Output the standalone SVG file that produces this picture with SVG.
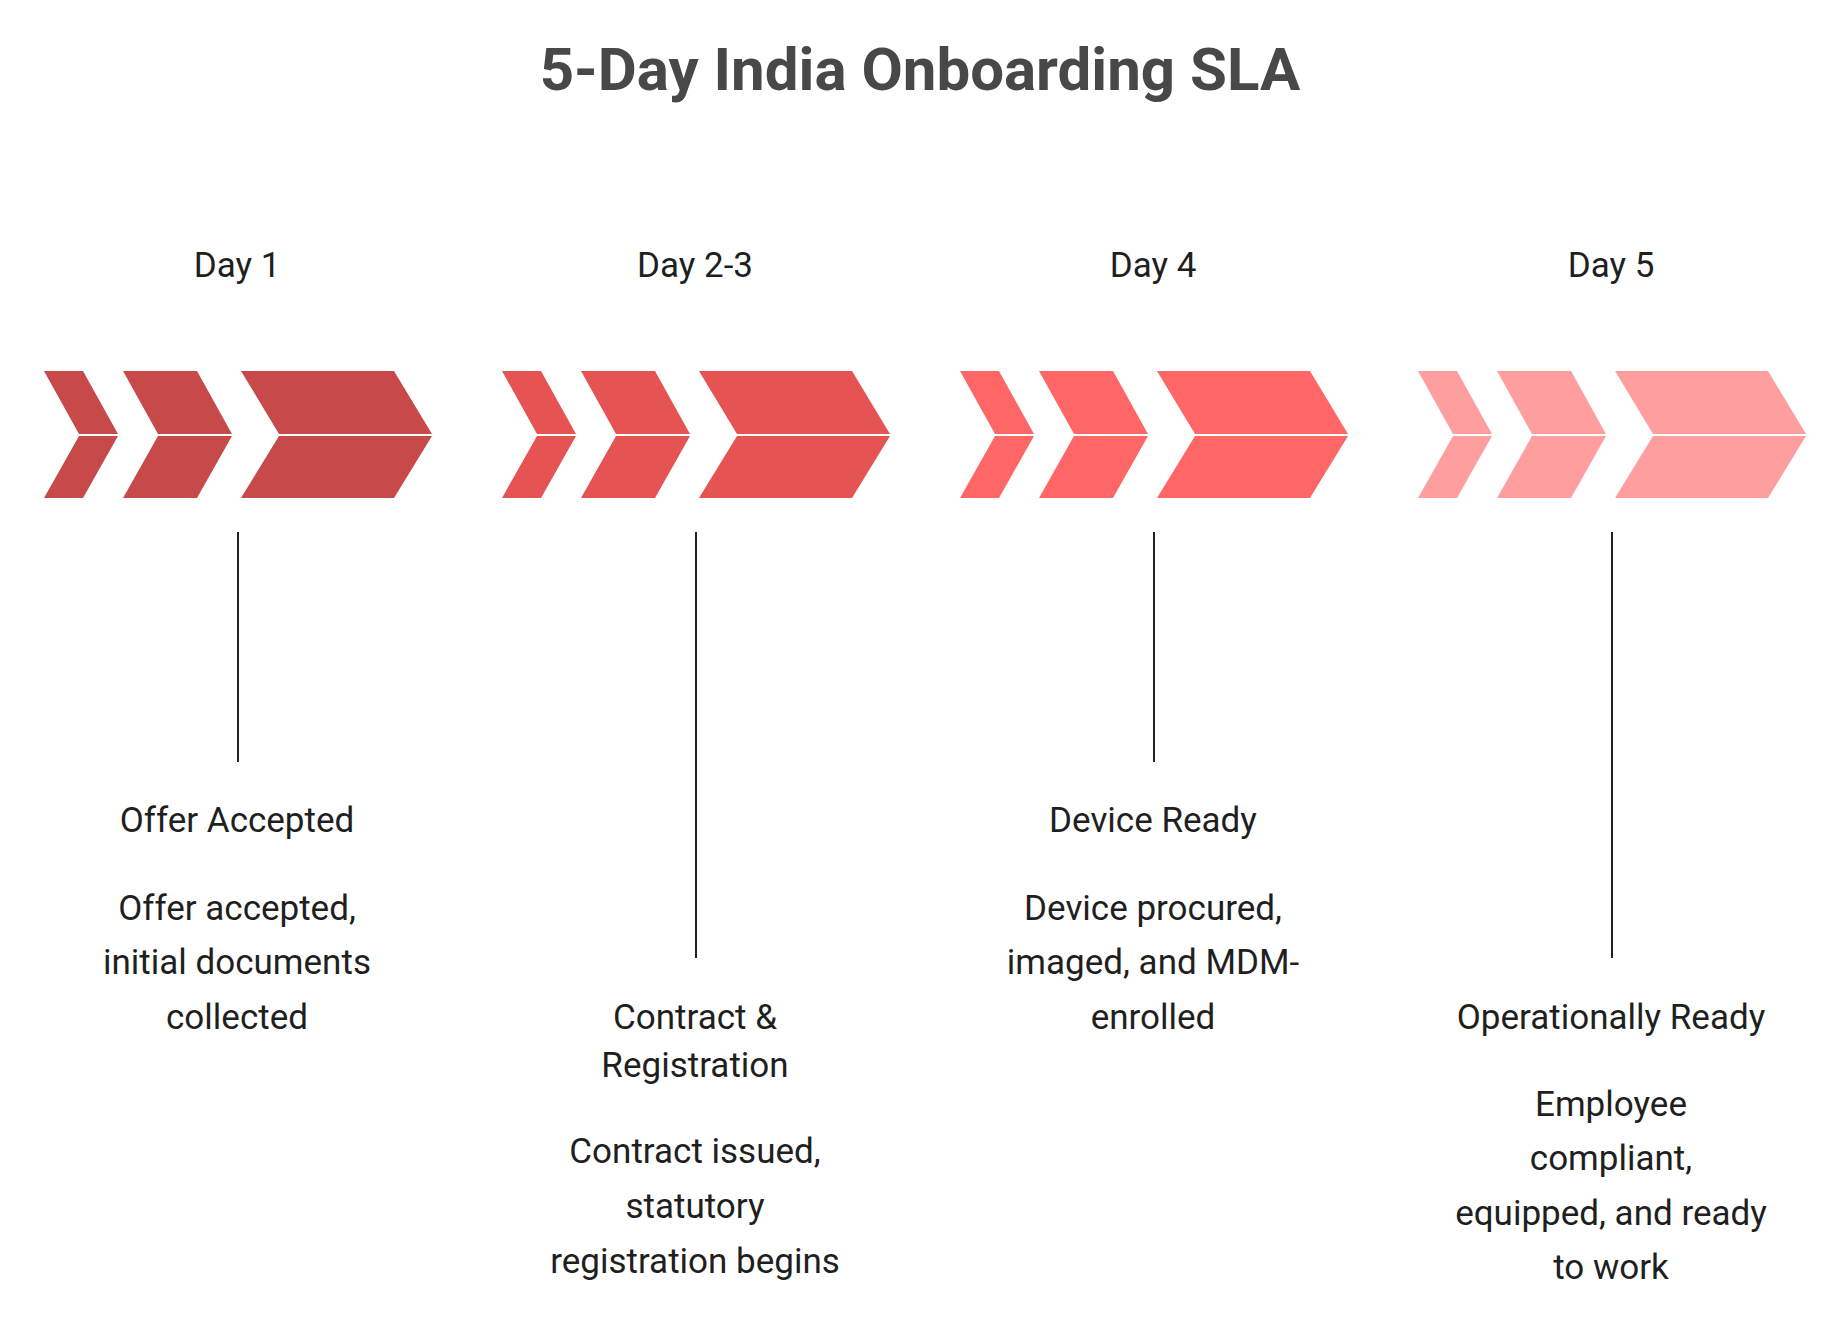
<svg xmlns="http://www.w3.org/2000/svg" width="1840" height="1318" viewBox="0 0 1840 1318">
<style>
text{font-family:Roboto,"Liberation Sans",sans-serif;text-anchor:middle;fill:#1f1f1f}
.t{font-size:60px;font-weight:bold;fill:#484848}
.b{font-size:35px}
.ln{stroke:#222;stroke-width:2}
</style>
<defs>
<g id="chev">
<path d="M0 371H39L74 434H35Z M0 498H39L74 436H35Z"/>
<path d="M79 371H153L188 434H114Z M79 498H153L188 436H114Z"/>
<path d="M197 371H350L388 434H235Z M197 498H350L388 436H235Z"/>
</g>
</defs>
<rect width="1840" height="1318" fill="#fff"/>
<text class="t" x="920" y="90">5-Day India Onboarding SLA</text>
<g id="n1"><use href="#chev" x="44" fill="#C8494A"/><text class="b" x="237" y="277">Day 1</text>
<text class="b" x="237" y="832">Offer Accepted</text>
<text class="b" x="237" y="920">Offer accepted,</text><text class="b" x="237" y="974">initial documents</text><text class="b" x="237" y="1029">collected</text></g>
<g id="n2"><use href="#chev" x="502" fill="#E65353"/><text class="b" x="695" y="277">Day 2-3</text>
<text class="b" x="695" y="1029">Contract &amp;</text><text class="b" x="695" y="1077">Registration</text>
<text class="b" x="695" y="1163">Contract issued,</text><text class="b" x="695" y="1218">statutory</text><text class="b" x="695" y="1273">registration begins</text></g>
<g id="n3"><use href="#chev" x="960" fill="#FF6666"/><text class="b" x="1153" y="277">Day 4</text>
<text class="b" x="1153" y="832">Device Ready</text>
<text class="b" x="1153" y="920">Device procured,</text><text class="b" x="1153" y="974">imaged, and MDM-</text><text class="b" x="1153" y="1029">enrolled</text></g>
<g id="n4"><use href="#chev" x="1418" fill="#FF9E9E"/><text class="b" x="1611" y="277">Day 5</text>
<text class="b" x="1611" y="1029">Operationally Ready</text>
<text class="b" x="1611" y="1116">Employee</text><text class="b" x="1611" y="1170">compliant,</text><text class="b" x="1611" y="1225">equipped, and ready</text><text class="b" x="1611" y="1279">to work</text></g>
<g id="connectors">
<line class="ln" x1="238" y1="532" x2="238" y2="762"/>
<line class="ln" x1="696" y1="532" x2="696" y2="958"/>
<line class="ln" x1="1154" y1="532" x2="1154" y2="762"/>
<line class="ln" x1="1612" y1="532" x2="1612" y2="958"/>
</g>
</svg>
